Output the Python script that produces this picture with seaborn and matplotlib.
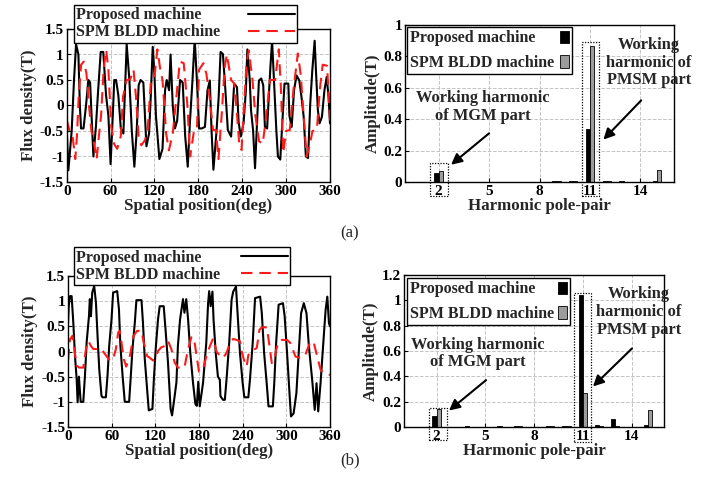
import matplotlib
matplotlib.use("Agg")
import matplotlib.pyplot as plt
from matplotlib.patches import Rectangle
import pandas as pd
import seaborn as sns

# ---------------- data ----------------
machines = ["Proposed machine", "SPM BLDD machine"]

# (a) air-gap flux density waveforms
pos_a_prop = [0, 2.3, 6.8, 10, 12.8, 16, 18, 19.6, 23, 26.4, 29.6, 32, 34, 36.5, 40, 43, 46.5, 50, 53.8, 57,
              60, 63, 65, 67.5, 70.6, 74, 77.5, 82, 85.7, 89, 92.5, 95.7, 98.4, 101, 104.8, 107, 109, 112.6, 115,
              117.6, 120, 122, 126.7, 131, 134.5, 136.7, 140, 142, 145, 148, 151, 155, 158.6, 162, 165.5, 168.6,
              172, 175, 178, 181, 184.6, 189, 192.5, 195.7, 198, 200.6, 204.6, 207.8, 210.4, 213.6, 216.7, 220.3,
              224.8, 229, 232.8, 235, 238, 241.8, 245, 247, 250.3, 252, 254.8, 257.5, 260.6, 262.8, 266, 268.7,
              271, 274, 276.3, 278.5, 280.8, 283, 286.6, 288.8, 292, 295.5, 297.8, 301, 303, 304.5, 307.6, 310.8,
              314.3, 318, 321, 324, 327, 330, 333, 335.8, 339, 341, 343.4, 345.7, 349, 352.4, 355.5, 358, 360]
flux_a_prop = [-0.45, -1.27, -0.5, 0.5, 1.2, 1.0, 0.0, -0.45, -0.45, 0.0, 0.5, 0.45, -0.2, -1.0, -0.4, 0.3, 1.05,
               1.05, 0.2, -0.2, -1.15, -0.2, 0.5, 0.5, 0.2, -0.45, -0.55, 1.2, 0.5, -0.5, -1.2, -0.5, 0.4, 0.5,
               0.45, -0.2, -0.8, -0.55, 0.2, 1.15, 0.6, -0.2, -1.05, -0.85, 0.3, 0.5, 0.3, 1.0, 0.0, -0.45, -0.3,
               0.5, 0.45, -0.6, -1.2, -0.3, 0.5, 1.3, 0.5, -0.45, -0.45, -0.42, 0.3, 0.49, -0.48, -1.26, -0.55,
               0.17, 1.05, 1.01, 0.36, -0.48, -0.61, 0.43, 0.36, -0.32, -0.61, -0.35, 0.3, 1.1, 0.5, -0.09, -0.48,
               -1.23, -0.22, 0.49, 0.53, 0.4, -0.42, -0.45, 0.17, 0.75, 1.27, 0.62, -0.48, -1.0, -1.06, -0.16,
               0.43, 0.43, 0.43, -0.2, -0.42, 0.3, 0.59, 0.49, 0.17, -0.22, -1.0, -1.03, 0.04, 0.69, 1.27, 0.62,
               -0.09, -0.35, -0.22, 0.3, 0.56, 0.17, -0.35]
pos_a_spm = [0, 4, 8, 11.7, 14, 16.4, 19.7, 23.4, 27, 30.5, 33.8, 37.5, 41, 44, 47, 50.6, 54, 57, 61, 64.7, 69,
             74, 77, 82, 86.7, 91.4, 94.7, 98.4, 102, 107, 110.6, 114.9, 119.5, 124, 128, 131, 136, 139.7, 145,
             150, 154.7, 160, 165, 168.8, 174, 178, 181, 186.9, 191, 196, 200, 204, 207.5, 212, 216, 219, 224.8,
             229, 232.8, 236, 239, 242.7, 245.8, 249, 254, 258, 263, 268, 272, 278, 285, 290, 293, 296, 300, 305,
             310, 316, 320, 324, 328, 332, 336, 342, 346, 350, 356, 360]
flux_a_spm = [-0.28, -0.5, -0.6, -1.05, -0.6, 0.17, 0.8, 0.86, 0.63, 0.0, -0.5, -0.75, -1.05, -0.6, -0.2, 0.73,
              1.09, 0.7, -0.42, -0.75, -0.85, -0.6, 0.17, 0.5, 0.51, 0.7, 0.17, -0.62, -0.78, -0.68, -0.49, 0.43,
              0.5, 1.1, 0.7, 0.5, -0.55, -0.88, -0.55, 0.17, 0.86, 0.83, 0.0, -1.0, -0.5, -0.48, 0.7, 0.83, 0.62,
              0.1, -0.48, -0.48, -1.05, -0.16, 0.75, 1.0, 0.5, 0.43, -0.16, -0.77, -0.87, 0.04, 0.82, 1.08, 0.5,
              -0.2, -0.7, -0.75, -0.3, 0.5, 0.5, 1.1, 0.3, -0.93, -0.5, -0.48, 0.3, 1.02, 0.6, -0.2, -1.0, -0.8,
              -0.5, -0.48, 0.3, 0.8, 0.78, -0.3]

# (b) air-gap flux density waveforms
pos_b_prop = [0, 1, 2.7, 5, 7.3, 9.6, 11.9, 13.2, 15, 17.4, 21, 23.3, 25.6, 28.8, 30, 31.5, 33.3, 36, 38.4, 40.6,
              42.9, 46, 47.5, 52, 54.3, 56.6, 59.8, 62, 67.6, 70, 72, 75, 78, 84, 86, 88.6, 91.8, 94, 101, 103,
              105.5, 108.7, 111, 116, 118, 120.5, 123.7, 126, 131.5, 134, 137.4, 141, 143, 146.6, 149, 151, 154,
              158, 160, 162.5, 165, 168, 171.7, 175, 177, 179, 181, 185.5, 190, 192.5, 194, 196, 198.5, 200, 203,
              206, 208.6, 209.5, 213, 215.5, 217.8, 221.5, 224.8, 227, 230.8, 233, 236.3, 240, 242.3, 247.8, 250,
              253.8, 257, 264, 266.3, 269.5, 273, 275.5, 281.5, 283.4, 286, 289.4, 295.4, 297.7, 301, 304.6, 306.4,
              310, 313.8, 317, 320.3, 324, 327.7, 331, 335.5, 339, 341.5, 343.8, 347, 350.8, 354, 356.3, 358.6, 360]
flux_b_prop = [0.55, 0.9, 1.1, 1.1, 0.57, -0.09, -0.55, -1.01, -0.5, -1.0, -1.0, -0.48, 0.18, 0.7, 1.04, 0.7, 1.17,
               1.3, 0.97, 0.31, -0.35, -0.88, -0.91, -0.91, -0.48, 0.11, 0.64, 1.17, 1.2, 0.84, 0.11, -0.48, -1.0,
               -1.0, -0.55, 0.05, 0.57, 1.02, 1.02, 0.57, -0.15, -0.75, -1.17, -1.14, -0.55, 0.05, 0.64, 0.9, 0.9,
               0.44, -0.22, -1.14, -1.27, -0.88, -0.61, 0.11, 0.64, 1.04, 0.77, 1.04, 0.64, -0.02, -0.61, -1.04,
               -1.08, -0.6, -1.09, -0.63, 0.17, 0.96, 1.2, 0.9, 1.19, 0.63, -0.03, -0.5, -0.56, -0.89, -0.96, -0.96,
               -0.56, 0.17, 1.03, 1.19, 1.29, 0.76, -0.03, -0.63, -0.91, -0.91, -0.56, 0.17, 1.06, 1.09, 0.76, -0.03,
               -0.63, -1.09, -1.09, -0.63, 0.17, 0.93, 0.96, 0.7, -0.03, -0.89, -1.29, -1.23, -0.83, -0.03, 0.76,
               0.96, 0.76, 0.1, -0.56, -1.16, -0.63, -1.19, -0.63, 0.17, 0.83, 1.09, 0.56, 0.5]
pos_b_spm = [0, 2.7, 6, 8.7, 11.9, 15.5, 21, 24.7, 27.9, 31.5, 34.7, 40, 46, 50.7, 57.5, 62, 65.8, 69, 71, 73.5,
             76.7, 80, 85, 90, 95, 101, 104, 108.7, 112, 117, 120, 123.7, 128, 133, 137.4, 142, 146.6, 151, 160,
             165, 169.4, 173, 176, 180, 185.5, 190, 194.8, 199.4, 204, 209.5, 213, 217.8, 222.5, 227, 231.7, 236.3,
             238.6, 241.8, 245.5, 247.8, 251, 254.8, 259.4, 263, 266.3, 273.2, 277, 280, 283.4, 286, 289.4, 294,
             301, 305.5, 312.5, 319.4, 326, 333, 337.8, 342.4, 347, 351.7, 358.6, 360]
flux_b_spm = [-0.18, 0.24, 0.31, 0.05, -0.28, -0.32, -0.32, 0.05, 0.21, 0.11, 0.05, 0.05, 0.05, -0.05, -0.18, -0.15,
              0.05, 0.38, 0.41, 0.18, -0.15, -0.3, -0.09, 0.31, 0.41, 0.41, 0.18, -0.09, -0.12, -0.18, -0.15, 0.01,
              0.08, 0.11, 0.21, 0.05, -0.22, -0.32, -0.32, 0.05, 0.28, 0.28, -0.02, -0.4, -0.36, -0.1, 0.1, 0.26,
              0.0, -0.1, -0.13, -0.03, 0.17, 0.25, 0.23, 0.2, 0.0, -0.17, -0.3, -0.07, 0.0, 0.03, 0.07, 0.43, 0.48,
              0.48, 0.1, -0.23, -0.17, 0.03, 0.2, 0.23, 0.23, 0.17, -0.1, -0.13, -0.07, 0.2, 0.17, -0.1, -0.36,
              -0.43, -0.46, -0.46]

# harmonic spectra
harmonics = [1, 2, 3, 4, 5, 6, 7, 8, 9, 10, 11, 12, 13, 14, 15]
amp_a_prop = [0.002, 0.055, 0.002, 0.003, 0.002, 0.002, 0.003, 0.002, 0.008, 0.005, 0.34, 0.005, 0.004, 0.002, 0.004]
amp_a_spm = [0.002, 0.068, 0.002, 0.002, 0.002, 0.002, 0.002, 0.002, 0.004, 0.006, 0.865, 0.008, 0.003, 0.003, 0.078]
amp_b_prop = [0.002, 0.09, 0.002, 0.004, 0.002, 0.005, 0.008, 0.002, 0.008, 0.008, 1.04, 0.012, 0.065, 0.003, 0.012]
amp_b_spm = [0.002, 0.145, 0.002, 0.002, 0.002, 0.003, 0.004, 0.002, 0.005, 0.005, 0.27, 0.004, 0.008, 0.002, 0.135]

wave_xticks = [0, 60, 120, 180, 240, 300, 360]
wave_yticks = [-1.5, -1, -0.5, 0, 0.5, 1, 1.5]
wave_yticklabels = ["-1.5", "-1", "-0.5", "0", "0.5", "1", "1.5"]
harm_xticks = [2, 5, 8, 11, 14]
amp_a_yticks = [0, 0.2, 0.4, 0.6, 0.8, 1]
amp_a_yticklabels = ["0", "0.2", "0.4", "0.6", "0.8", "1"]
amp_b_yticks = [0, 0.2, 0.4, 0.6, 0.8, 1, 1.2]
amp_b_yticklabels = ["0", "0.2", "0.4", "0.6", "0.8", "1", "1.2"]
ann_mgm = "Working harmonic\nof MGM part"
ann_pmsm = "Working\nharmonic of\nPMSM part"

# ---------------- style ----------------
sns.set_style("ticks")
plt.rcParams["font.family"] = ["Liberation Serif", "DejaVu Serif"]
plt.rcParams["font.weight"] = "bold"
plt.rcParams["axes.labelweight"] = "bold"
plt.rcParams["xtick.direction"] = "in"
plt.rcParams["ytick.direction"] = "in"

FS = 11.5     # legend text
LFS = 12.2    # axis labels
AFS = 11.8    # annotations
TFS = 11      # tick labels

fig = plt.figure(figsize=(7.15, 4.9), dpi=100)
W, H = 715.0, 490.0
legends = []


def rect(l, t, r, b):
    return [l / W, 1 - b / H, (r - l) / W, (b - t) / H]


def style_axes(ax):
    for s in ax.spines.values():
        s.set_color("black")
        s.set_linewidth(1.0)
        s.set_visible(True)
    ax.grid(True, linestyle="--", color="#c4c4c4", linewidth=0.7)
    ax.set_axisbelow(True)
    ax.tick_params(labelsize=TFS, length=3, width=0.8, pad=2, colors="black")


def wave_panel(r, xp, yp, xs, ys, leg_anchor, leg_w):
    ax = fig.add_axes(r)
    df = pd.concat([
        pd.DataFrame({"pos": xp, "flux": yp, "machine": machines[0]}),
        pd.DataFrame({"pos": xs, "flux": ys, "machine": machines[1]}),
    ], ignore_index=True)
    sns.lineplot(data=df, x="pos", y="flux", hue="machine", style="machine",
                 palette={machines[0]: "black", machines[1]: "#ff1a1a"},
                 dashes={machines[0]: "", machines[1]: (5.5, 3.3)},
                 estimator=None, sort=False, linewidth=1.5, ax=ax)
    ax.set_xlim(0, 360)
    ax.set_ylim(-1.5, 1.5)
    ax.set_xticks(wave_xticks)
    ax.set_yticks(wave_yticks)
    ax.set_yticklabels(wave_yticklabels)
    ax.set_xlabel("Spatial position(deg)", fontsize=LFS, labelpad=0)
    ax.set_ylabel("Flux density(T)", fontsize=LFS, labelpad=2)
    style_axes(ax)
    handles, labels = ax.get_legend_handles_labels()
    leg = ax.legend(handles, labels, loc="upper left", bbox_to_anchor=leg_anchor,
                    markerfirst=False, fontsize=FS, frameon=True, fancybox=False,
                    edgecolor="black", framealpha=1, borderpad=0.15, labelspacing=0.05,
                    handlelength=2.9, handletextpad=0.8, borderaxespad=0)
    leg.get_frame().set_linewidth(1.0)
    for t in leg.get_texts():
        t.set_fontweight("bold")
    legends.append((leg, leg_w))
    return ax


def bar_panel(r, pa, pb, ymax, yticks, yticklabels, leg_anchor, leg_w,
              mgm_txt, mgm_arrow, pm_txt, pm_arrow, box1, box2):
    ax = fig.add_axes(r)
    df = pd.DataFrame({
        "h": harmonics + harmonics,
        "amp": pa + pb,
        "machine": [machines[0]] * len(harmonics) + [machines[1]] * len(harmonics),
    })
    sns.barplot(data=df, x="h", y="amp", hue="machine", native_scale=True,
                palette={machines[0]: "black", machines[1]: "#9c9c9c"},
                width=0.5, gap=0, edgecolor="black", linewidth=0.6,
                errorbar=None, ax=ax, saturation=1)
    ax.set_xlim(0, 16)
    ax.set_ylim(0, ymax)
    ax.set_xticks(harm_xticks)
    ax.set_xticklabels([str(v) for v in harm_xticks])
    ax.set_yticks(yticks)
    ax.set_yticklabels(yticklabels)
    ax.set_xlabel("Harmonic pole-pair", fontsize=LFS, labelpad=0)
    ax.set_ylabel("Amplitude(T)", fontsize=LFS, labelpad=2)
    style_axes(ax)
    handles, labels = ax.get_legend_handles_labels()
    leg = ax.legend(handles, labels, loc="upper left", bbox_to_anchor=leg_anchor,
                    markerfirst=False, fontsize=FS, frameon=True, fancybox=False,
                    edgecolor="black", framealpha=1, borderpad=0.2, labelspacing=0.55,
                    handlelength=0.55, handleheight=0.8, handletextpad=0.25, borderaxespad=0)
    leg.get_frame().set_linewidth(1.0)
    for t in leg.get_texts():
        t.set_fontweight("bold")
    legends.append((leg, leg_w))
    ax.text(mgm_txt[0], mgm_txt[1], ann_mgm, ha="center", va="center", fontsize=AFS,
            fontweight="bold", linespacing=1.15)
    ax.text(pm_txt[0], pm_txt[1], ann_pmsm, ha="center", va="center", fontsize=AFS,
            fontweight="bold", linespacing=1.15, clip_on=False)
    for (x0, y0), (x1, y1) in (mgm_arrow, pm_arrow):
        ax.annotate("", xy=(x1, y1), xytext=(x0, y0),
                    arrowprops=dict(arrowstyle="-|>", color="black", lw=1.5, mutation_scale=16,
                                    shrinkA=0, shrinkB=0))
    for (bx0, bx1, by0, by1) in (box1, box2):
        ax.add_patch(Rectangle((bx0, by0), bx1 - bx0, by1 - by0, fill=False,
                               linestyle=(0, (1, 1.2)), edgecolor="black", linewidth=0.9,
                               clip_on=False, zorder=5))
    return ax


wave_panel(rect(66.7, 29, 330, 182), pos_a_prop, flux_a_prop, pos_a_spm, flux_a_spm, (0.028, 1.157), 223)
bar_panel(rect(405, 25, 674, 182), amp_a_prop, amp_a_spm, 1.0, amp_a_yticks, amp_a_yticklabels,
          (0.007, 0.987), 165,
          (4.6, 0.48), ((5.0, 0.31), (2.74, 0.11)), (14.5, 0.76), ((14.05, 0.52), (11.8, 0.27)),
          (1.5, 2.56, -0.09, 0.12), (10.54, 11.55, -0.09, 0.89))
wave_panel(rect(68, 276, 330, 427), pos_b_prop, flux_b_prop, pos_b_spm, flux_b_spm, (0.023, 1.19), 216)
bar_panel(rect(404, 275, 664, 427), amp_b_prop, amp_b_spm, 1.2, amp_b_yticks, amp_b_yticklabels,
          (0.0115, 0.98), 162,
          (4.55, 0.58), ((5.05, 0.37), (2.77, 0.13)), (14.46, 0.91), ((14.03, 0.62), (11.63, 0.32)),
          (1.54, 2.65, -0.10, 0.15), (10.46, 11.5, -0.12, 1.06))

fig.text(350 / W, 1 - 233 / H, "(a)", ha="center", va="center", fontsize=12, fontweight="normal")
fig.text(350 / W, 1 - 460 / H, "(b)", ha="center", va="center", fontsize=12, fontweight="normal")

# left-align legend labels with handles on the right, and fit legend boxes to target widths
fig.canvas.draw()
renderer = fig.canvas.get_renderer()
for leg, target_w in legends:
    total_w = leg.get_window_extent(renderer).width
    for col in leg._legend_handle_box.get_children():
        rows = col.get_children()
        row_w = max(row.get_bbox(renderer).width for row in rows)
        new_w = max(row_w, row_w + (target_w - total_w))
        for row in rows:
            row.mode = "expand"
            row.width = new_w

fig.savefig("out.png", dpi=100, facecolor="white")
